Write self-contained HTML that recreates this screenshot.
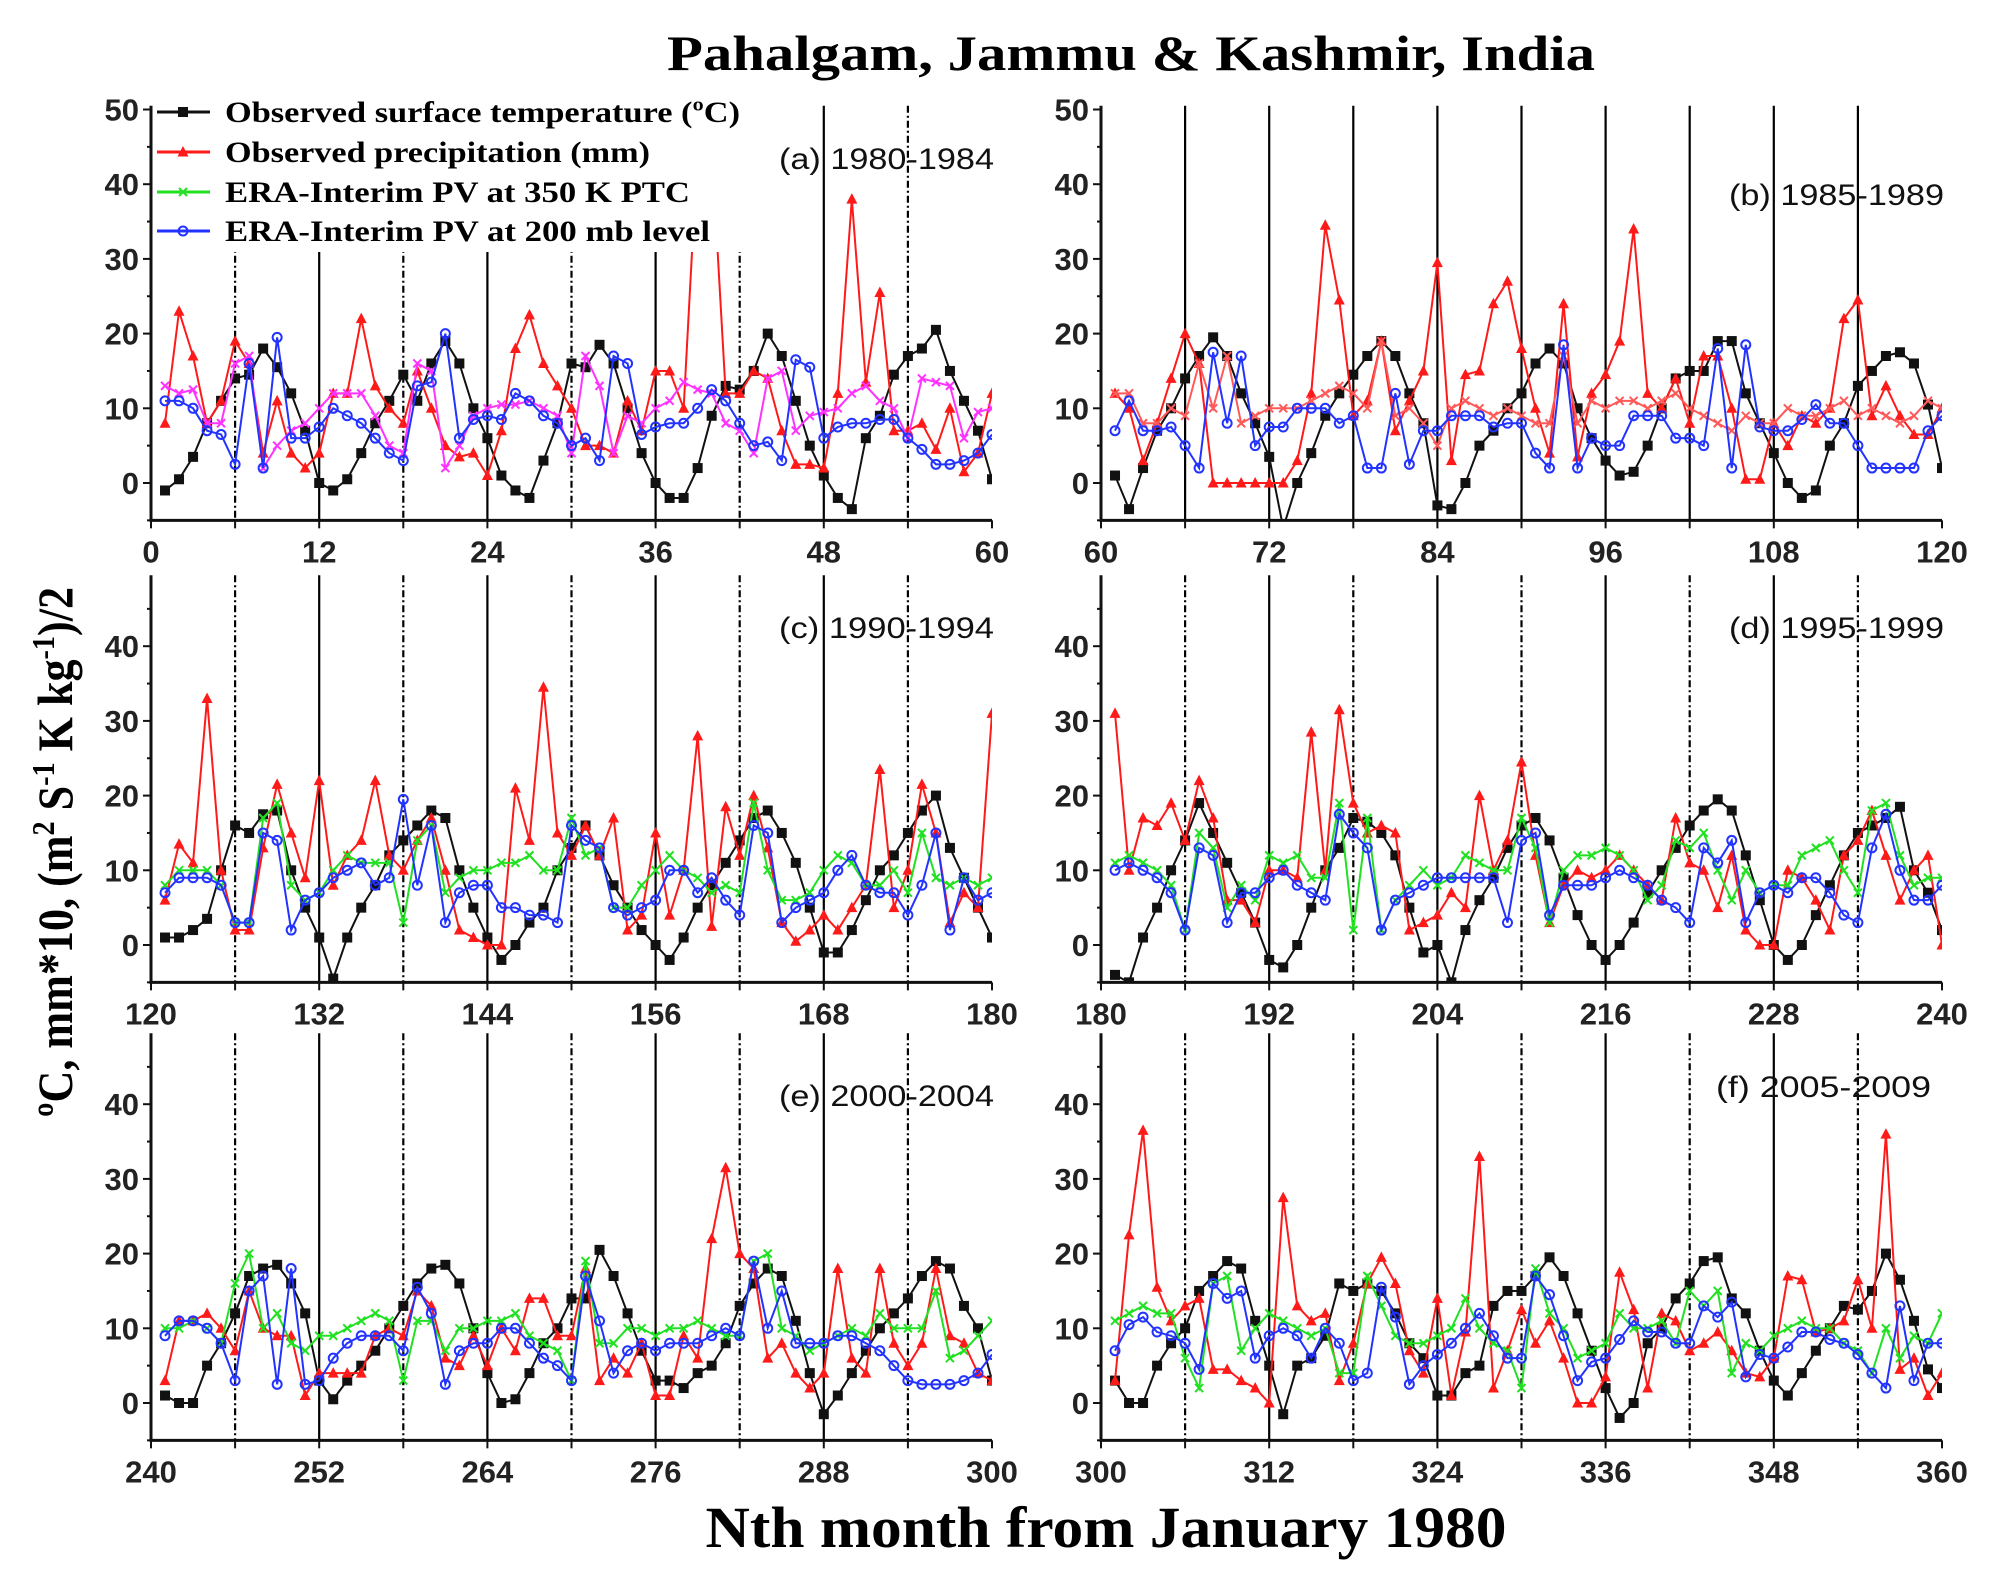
<!DOCTYPE html>
<html><head><meta charset="utf-8"><style>
html,body{margin:0;padding:0;background:#fff;}
svg{display:block;}
</style></head><body>
<svg id="chart" xmlns="http://www.w3.org/2000/svg" width="2001" height="1587" viewBox="0 0 2001 1587">
<rect x="0" y="0" width="2001" height="1587" fill="#fff"/>
<text x="1131" y="70" text-anchor="middle" font-family="Liberation Serif, serif" font-weight="bold" font-size="50" textLength="928" lengthAdjust="spacingAndGlyphs">Pahalgam, Jammu &amp; Kashmir, India</text>
<text x="1106" y="1547" text-anchor="middle" font-family="Liberation Serif, serif" font-weight="bold" font-size="58" textLength="801" lengthAdjust="spacingAndGlyphs">Nth month from January 1980</text>
<text transform="translate(72,852) rotate(-90)" text-anchor="middle" font-family="Liberation Serif, serif" font-weight="bold" font-size="50" textLength="530" lengthAdjust="spacingAndGlyphs"><tspan>ºC, mm*10, (m</tspan><tspan baseline-shift="super" font-size="32">2</tspan><tspan> S</tspan><tspan baseline-shift="super" font-size="32">-1</tspan><tspan> K kg</tspan><tspan baseline-shift="super" font-size="32">-1</tspan><tspan>)/2</tspan></text>
<g id="panels"></g>
</svg>
<script>
const NS="http://www.w3.org/2000/svg";
const panelNames=["a","b","c","d","e","f"];
const panelLabels=["(a) 1980-1984","(b) 1985-1989","(c) 1990-1994","(d) 1995-1999","(e) 2000-2004","(f) 2005-2009"];
const panelStart=[0,60,120,180,240,300];
const yTicksTop=[0,10,20,30,40,50];
const yTicksLower=[0,10,20,30,40];

const tempA=[-1,0.5,3.5,8,11,14,14.5,18,15.5,12,7,0,-1,0.5,4,8,11,14.5,11,16,19,16,10,6,1,-1,-2,3,8,16,15.5,18.5,16,10,4,0,-2,-2,2,9,13,12.5,15,20,17,11,5,1,-2,-3.5,6,9,14.5,17,18,20.5,15,11,7,0.5];
const precipA=[8,23,17,8,11,19,16,4,11,4,2,4,12,12,22,13,10,8,15,10,5,3.5,4,1,7,18,22.5,16,13,10,5,5,4,11,7,15,15,10,45,45,12,12,15,14,7,2.5,2.5,2,12,38,13.5,25.5,7,7,8,4.5,10,1.5,4,12];
const pv350A=[13,12,12.5,8,8,16,17,2,5,7,8,10,12,12,12,9,5,4,16,15,2,5,9,10,10.5,10.5,11,10,9,4,17,13,4,9,8,10,11,13.5,12.5,12,8,7,4,14,15,7,9,9.5,10,12,13,11,10,6,14,13.5,13,6,9.5,10];
const pv200A=[11,11,10,7,6.5,2.5,16,2,19.5,6,6,7.5,10,9,8,6,4,3,13,13.5,20,6,8.5,9,8.5,12,11,9,8,5,6,3,17,16,6.5,7.5,8,8,10,12.5,11,8,5,5.5,3,16.5,15.5,6,7.5,8,8,8.5,8.5,6,4.5,2.5,2.5,3,4,6.5];

const tempB=[1,-3.5,2,7,10,14,17,19.5,17,12,8,3.5,-6,0,4,9,12,14.5,17,19,17,12,8,-3,-3.5,0,5,7,10,12,16,18,16,10,6,3,1,1.5,5,10,14,15,15,19,19,12,8,4,0,-2,-1,5,8,13,15,17,17.5,16,10.5,2];
const precipB=[12,10,3,8,14,20,16,0,0,0,0,0,0,3,12,34.5,24.5,9,11,19,7,11,15,29.5,3,14.5,15,24,27,18,10,4,24,3.5,12,14.5,19,34,12,10,14,8,17,17,10,0.5,0.5,8,5,9,8,10,22,24.5,9,13,9,6.5,6.5,10];
const pv350B=[12,12,8,8,10,9,16,10,17,8,9,10,10,10,11,12,13,12,10,19,9,10,8,5,10,11,10,9,10,9,8,8,17,8,11,10,11,11,10,11,12,10,9,8,7,9,8,8,10,9,9,10,11,9,10,9,8,9,11,10];
const pv200B=[7,11,7,7,7.5,5,2,17.5,8,17,5,7.5,7.5,10,10,10,8,9,2,2,12,2.5,7,7,9,9,9,7.5,8,8,4,2,18.5,2,6,5,5,9,9,9,6,6,5,18,2,18.5,7.5,7,7,8.5,10.5,8,8,5,2,2,2,2,7,9];

const tempC=[1,1,2,3.5,10,16,15,17.5,18,10,5,1,-4.5,1,5,8,12,14,16,18,17,10,5,1,-2,0,3,5,10,13,16,12,8,5,2,0,-2,1,5,8,11,14,17,18,15,11,5,-1,-1,2,6,10,12,15,18,20,13,9,5,1];
const precipC=[6,13.5,11,33,10,2,2,13,21.5,15,9,22,8,12,14,22,12,10,14,17,10,2,1,0,0,21,14,34.5,15,12,16,12,17,2,4,15,4,10,28,2.5,18.5,12,20,13,3,0.5,2,4,2,5,8,23.5,5,10,21.5,15,3,7,5,31];
const pv350C=[8,10,10,10,8,3,3,17,19,8,6,7,10,12,11,11,11,3,14,16,7,9,10,10,11,11,12,10,10,17,12,13,5,5,8,10,12,10,9,7,8,7,19,10,6,6,7,10,12,11,8,8,10,7,15,9,8,9,8,9];
const pv200C=[7,9,9,9,8,3,3,15,14,2,6,7,9,10,11,8,9,19.5,8,16,3,7,8,8,5,5,4,4,3,16,14,13,5,4,5,6,10,10,7,9,6,4,16,15,3,5,6,7,10,12,8,7,7,4,8,15,2,9,6,7];

const tempD=[-4,-5,1,5,10,14,19,15,11,7,3,-2,-3,0,5,10,13,17,16.5,15,12,5,-1,0,-5,2,6,9,13,16,17,14,9,4,0,-2,0,3,7,10,13,16,18,19.5,18,12,6,0,-2,0,4,8,12,15,16,17,18.5,10,7,2];
const precipD=[31,10,17,16,19,14,22,17,6,6,3,10,10,9,28.5,10,31.5,19,15,16,15,2,3,4,7,5,20,10,14,24.5,12,3,8,10,9,10,12,10,8,6,17,11,10,5,12,2,0,0,10,9,6,2,12,14,18,12,6,10,12,0];
const pv350D=[11,12,11,10,8,2,15,13,5,8,6,12,11,12,9,9,19,2,17,2,6,8,10,8,9,12,11,10,10,17,13,3,10,12,12,13,12,10,6,8,14,13,15,10,6,10,7,8,8,12,13,14,10,7,18,19,12,8,9,9];
const pv200D=[10,11,10,9,7,2,13,12,3,7,7,9,10,8,7,6,17.5,15,13,2,6,7,8,9,9,9,9,9,3,14,15,4,8,8,8,9,10,9,8,6,5,3,13,11,14,3,7,8,7,9,9,7,4,3,13,17.5,10,6,6,8];

const tempE=[1,0,0,5,8,12,17,18,18.5,16,12,3,0.5,3,5,7,10,13,16,18,18.5,16,10,4,0,0.5,4,8,10,14,14,20.5,17,12,7,3,3,2,4,5,8,13,16,18,17,11,4,-1.5,1,4,7,10,12,14,17,19,18,13,10,3];
const precipE=[3,11,11,12,10,7,15,10,9,9,1,4,4,4,4,9,10,9,15,13,6,5,9,5,10,7,14,14,9,9,18,3,6,4,8,1,1,9,6,22,31.5,20,18,6,8,4,2,4,18,6,4,18,8,5,8,18,9,8,4,3];
const pv350E=[10,10,11,10,8,16,20,10,12,8,7,9,9,10,11,12,11,3,11,11,7,10,10,11,11,12,9,8,7,3,19,8,8,10,10,9,10,10,11,10,9,9,19,20,10,9,7,8,9,10,9,12,10,10,10,15,6,7,9,11];
const pv200E=[9,11,11,10,8,3,15,17,2.5,18,2.5,3,6,8,9,9,9,7,15.5,12,2.5,7,8,8,10,10,8,6,5,3,17,11,4,7,8,7,8,8,8,9,10,9,19,10,15,8,8,8,9,9,8,7,5,3,2.5,2.5,2.5,3,4,6.5];

const tempF=[3,0,0,5,8,10,15,17,19,18,11,5,-1.5,5,6,9,16,15,16,15,12,8,6,1,1,4,5,13,15,15,17,19.5,17,12,7,2,-2,0,8,10,14,16,19,19.5,14,12,7,3,1,4,7,10,13,12.5,15,20,16.5,11,4.5,2];
const precipF=[3,22.5,36.5,15.5,11,13,14,4.5,4.5,3,2,0,27.5,13,11,12,3,8,16,19.5,16,7,4,14,1,9.5,33,2,7,12.5,8,11,6,0,0,3.5,17.5,12.5,2,12,11,7,8,9.5,7,4,3.5,6,17,16.5,9.5,10,11,16.5,10,36,4.5,6,1,4];
const pv350F=[11,12,13,12,12,6,2,16,17,7,10,12,11,10,9,10,4,4,17,13,9,8,8,9,10,14,10,8,7,2,18,12,10,6,7,8,12,10,10,11,8,15,13,15,4,8,7,9,10,11,10,10,8,7,4,10,6,9,8,12];
const pv200F=[7,10.5,11.5,9.5,9,8,4.5,16,14,15,6,9,10,9,6,10,8,3,4,15.5,11.5,2.5,5,6.5,8,10,12,9,6,6,17,14.5,9,3,5.5,6,8.5,11,9.5,9.5,8,8,13,11.5,13.5,3.5,6.5,6,7.5,9.5,9.5,8.5,8,6.5,4,2,13,3,8,8];

const temps=[tempA,tempB,tempC,tempD,tempE,tempF];
const precips=[precipA,precipB,precipC,precipD,precipE,precipF];
const pv350s=[pv350A,pv350B,pv350C,pv350D,pv350E,pv350F];
const pv200s=[pv200A,pv200B,pv200C,pv200D,pv200E,pv200F];

const colX=[[151,992],[1101,1942]];
const rowZero=[483,945,1403];
const PXU=7.47;
const greenCols=["#ff33ff","#ff5a5a","#22e022","#22e022","#22e022","#22e022"];
const labelPos=[[994,169],[1944,205],[994,638],[1944,638],[994,1106],[1931,1097]];

const root=document.getElementById("panels");
function el(tag,attrs,parent){const e=document.createElementNS(NS,tag);for(const k in attrs)e.setAttribute(k,attrs[k]);(parent||root).appendChild(e);return e;}

function marker(g,kind,x,y,color){
  let m;
  if(kind==="sq"){m=el("rect",{x:x-5,y:y-5,width:10,height:10,fill:color},g);}
  else if(kind==="tri"){m=el("polygon",{points:`${x},${y-6} ${x-5.5},${y+4.5} ${x+5.5},${y+4.5}`,fill:color},g);}
  else if(kind==="x"){m=el("path",{d:`M${x-4},${y-4}L${x+4},${y+4}M${x-4},${y+4}L${x+4},${y-4}`,stroke:color,"stroke-width":2},g);}
  else {m=el("circle",{cx:x,cy:y,r:4.5,fill:"none",stroke:color,"stroke-width":2},g);}
  return m;
}

for(let p=0;p<6;p++){
  const col=p%2,row=Math.floor(p/2);
  const x0=colX[col][0],x1=colX[col][1];
  const y0=rowZero[row];
  const start=panelStart[p];
  const xs=v=>x0+(v-start)/60*(x1-x0);
  const ys=v=>y0-v*PXU;
  const top=row===0?ys(50.5):ys(49.5);
  const bottom=ys(-5);
  const g=el("g",{});
  
  
  const cid="clip"+p;
  const cp=el("clipPath",{id:cid},g);
  el("rect",{x:x0,y:top,width:x1-x0,height:bottom-top},cp);
  // reference lines
  for(let k=6;k<60;k+=6){
    const solid=(p===1)||(k%12===0);
    const ln=el("line",{x1:xs(start+k),x2:xs(start+k),y1:top,y2:bottom,stroke:"#000","stroke-width":2.2,"stroke-dasharray":solid?"none":"7,3,2,3"},g);
    
    
  }
  // axes
  const ax=el("path",{d:`M${x0},${top}L${x0},${bottom}L${x1},${bottom}`,fill:"none",stroke:"#111","stroke-width":3},g);
  
  
  const yt=row===0?yTicksTop:yTicksLower;
  for(let v=-5;v<=(row===0?50:45);v+=5){
    el("line",{x1:x0-(v%10===0?8:4),x2:x0,y1:ys(v),y2:ys(v),stroke:"#111","stroke-width":2},g);
  }
  yt.forEach(v=>{
    const t=el("text",{x:x0-12,y:ys(v)+11,"text-anchor":"end","font-family":"Liberation Sans, sans-serif","font-weight":"bold","font-size":31,fill:"#222"},g);
    t.textContent=v;
    
    
  });
  for(let k=0;k<=60;k+=6){
    el("line",{x1:xs(start+k),x2:xs(start+k),y1:bottom,y2:bottom+8,stroke:"#111","stroke-width":2},g);
  }
  for(let k=0;k<=60;k+=12){
    const t=el("text",{x:xs(start+k),y:bottom+42,"text-anchor":"middle","font-family":"Liberation Sans, sans-serif","font-weight":"bold","font-size":31,fill:"#222"},g);
    t.textContent=start+k;
    
    
  }
  // series
  const series=[[temps[p],"#111","sq","temperature"],[precips[p],"#ff1a1a","tri","precipitation"],[pv350s[p],greenCols[p],"x","pv-350k"],[pv200s[p],"#2233ff","o","pv-200mb"]];
  const sg=el("g",{"clip-path":`url(#${cid})`},g);
  series.forEach(([arr,color,kind,name])=>{
    const pts=arr.map((v,i)=>[xs(start+i+1),ys(v)]);
    const pl=el("polyline",{points:pts.map(q=>q.join(",")).join(" "),fill:"none",stroke:color,"stroke-width":2},sg);
    
    
    pts.forEach(q=>{
      const m=marker(sg,kind,q[0],q[1],color);
      
      
    });
  });
  const lbl=el("text",{x:labelPos[p][0],y:labelPos[p][1],"text-anchor":"end","font-family":"Liberation Sans, sans-serif","font-size":30,fill:"#111",textLength:215,lengthAdjust:"spacingAndGlyphs"},g);
  lbl.textContent=panelLabels[p];
  
  
}

// legend
const legendNames=["Observed surface temperature (ºC)","Observed precipitation (mm)","ERA-Interim PV at 350 K PTC","ERA-Interim PV at 200 mb level"];
const legendColors=["#111","#ff1a1a","#22e022","#2233ff"];
const legendKinds=["sq","tri","x","o"];
const lg=el("g",{});


el("rect",{x:153,y:96,width:590,height:156,fill:"#fff"},lg);
const legendY=[112,152,192,231];
const legendW=[515,425,465,485];
legendNames.forEach((n,i)=>{
  const eg=el("g",{},lg);
  
  
  el("line",{x1:157,x2:210,y1:legendY[i],y2:legendY[i],stroke:legendColors[i],"stroke-width":3},eg);
  marker(eg,legendKinds[i],183,legendY[i],legendColors[i]);
  const t=el("text",{x:225,y:legendY[i]+10,"font-family":"Liberation Serif, serif","font-weight":"bold","font-size":30,fill:"#000",textLength:legendW[i],lengthAdjust:"spacingAndGlyphs"},eg);
  t.textContent=n;
});
</script>
</body></html>
